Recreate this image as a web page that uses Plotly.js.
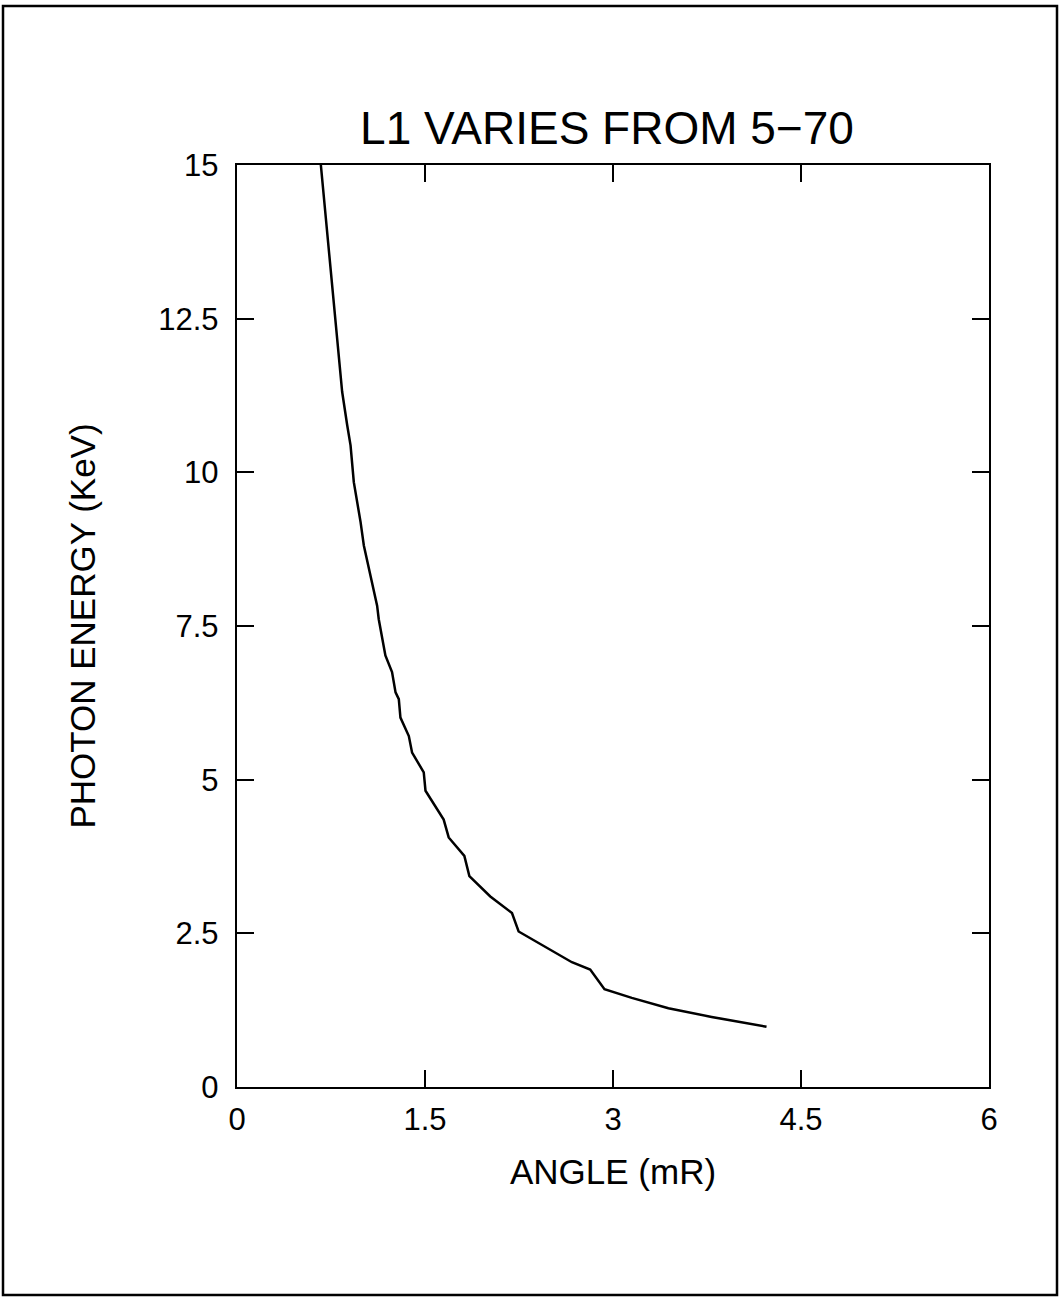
<!DOCTYPE html>
<html>
<head>
<meta charset="utf-8">
<script src="https://cdn.plot.ly/plotly-3.0.1.min.js"></script>
<style>
html,body{margin:0;padding:0;background:#fff;}
#chart{width:1062px;height:1301px;}
</style>
</head>
<body>
<div id="chart"></div>
<script>
const titleText = "L1 VARIES FROM 5\u221270";
const xTitle = "ANGLE (mR)";
const yTitle = "PHOTON ENERGY (KeV)";
const xTicks = [0, 1.5, 3, 4.5, 6];
const xTickLabels = ["0", "1.5", "3", "4.5", "6"];
const yTicks = [0, 2.5, 5, 7.5, 10, 12.5, 15];
const yTickLabels = ["0", "2.5", "5", "7.5", "10", "12.5", "15"];

const angle = [0.669, 0.733, 0.813, 0.839, 0.879, 0.906, 0.932, 0.959, 0.986, 1.012,
  1.052, 1.078, 1.118, 1.131, 1.171, 1.184, 1.237, 1.265, 1.291, 1.304,
  1.371, 1.397, 1.490, 1.504, 1.649, 1.689, 1.814, 1.854, 2.021, 2.194,
  2.247, 2.486, 2.672, 2.818, 2.932, 3.150, 3.442, 3.787, 4.225];
const energy = [15.0, 13.60, 11.85, 11.31, 10.77, 10.44, 9.84, 9.52, 9.19, 8.81,
  8.43, 8.16, 7.83, 7.61, 7.13, 7.02, 6.75, 6.42, 6.31, 6.01,
  5.71, 5.44, 5.12, 4.82, 4.35, 4.06, 3.76, 3.43, 3.10, 2.83,
  2.53, 2.25, 2.03, 1.91, 1.59, 1.45, 1.28, 1.14, 0.98];

const FONT = "Liberation Sans, Arial, Helvetica, sans-serif";

const trace = {
  x: angle, y: energy, type: "scatter", mode: "lines",
  line: {color: "#000", width: 2.5}, showlegend: false, hoverinfo: "skip"
};

const axisCommon = {
  showgrid: false, zeroline: false, showline: true, linecolor: "#000", linewidth: 2.2,
  mirror: "allticks", ticks: "inside", ticklen: 17, tickwidth: 2, tickcolor: "#000",
  tickfont: {family: FONT, size: 31, color: "#000"}, tickmode: "array"
};

const layout = {
  width: 1062, height: 1301,
  margin: {l: 237, r: 73, t: 165, b: 214},
  paper_bgcolor: "#fff", plot_bgcolor: "#fff",
  font: {family: FONT, color: "#000"},
  title: {text: titleText, font: {family: FONT, size: 46, color: "#000"},
          xref: "container", x: 607/1062, xanchor: "center",
          yref: "container", y: 1 - 128/1301, yanchor: "middle"},
  xaxis: Object.assign({}, axisCommon, {
    range: [0, 6], tickvals: xTicks, ticktext: xTickLabels, ticklabelstandoff: 4,
    title: {text: xTitle, font: {family: FONT, size: 35, color: "#000"}, standoff: 23}
  }),
  yaxis: Object.assign({}, axisCommon, {
    range: [0, 15], tickvals: yTicks, ticktext: yTickLabels, ticklabelstandoff: 10,
    title: {text: yTitle, font: {family: FONT, size: 35, color: "#000"}, standoff: 52}
  }),
  shapes: [{
    type: "rect", xref: "paper", yref: "paper",
    x0: (3 - 237) / 752, x1: (1057 - 237) / 752,
    y0: (1087 - 1295) / 922, y1: (1087 - 6) / 922,
    line: {color: "#000", width: 2.5}, fillcolor: "rgba(0,0,0,0)", layer: "below"
  }]
};

Plotly.newPlot("chart", [trace], layout, {staticPlot: true, displayModeBar: false});
</script>
</body>
</html>
